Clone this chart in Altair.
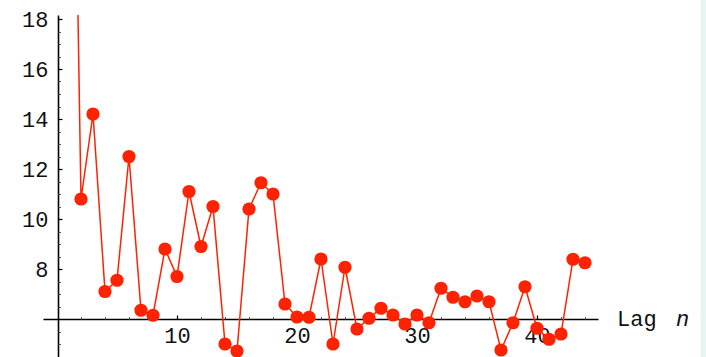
import altair as alt
import pandas as pd

# ---- data ----
lags = list(range(1, 45))
values = [40.0, 10.8, 14.2, 7.1, 7.55, 12.5, 6.35, 6.15, 8.8, 7.7,
          11.1, 8.9, 10.5, 5.0, 4.72, 10.4, 11.45, 11.0, 6.6, 6.08,
          6.07, 8.4, 5.0, 8.07, 5.6, 6.03, 6.43, 6.16, 5.8, 6.16,
          5.85, 7.23, 6.87, 6.69, 6.92, 6.69, 4.76, 5.85, 7.29, 5.63,
          5.19, 5.4, 8.39, 8.25]

x_major = [10, 20, 30, 40]
x_minor = [v for v in range(2, 45, 2) if v % 10 != 0]
y_major = [8, 10, 12, 14, 16, 18]
y_minor = [v / 2 for v in range(9, 37) if v % 4 != 0]

df = pd.DataFrame({"lag": lags, "value": values})

RED = "#ff2200"
FONT = "Liberation Mono"

xs = alt.Scale(domain=[-1.1667, 45.083], nice=False, zero=False)
ys = alt.Scale(domain=[4.48, 18.16], nice=False, zero=False)

base = alt.Chart(df)

# labels layer (line)
line = base.mark_line(color=RED, strokeWidth=1.5, clip=True).encode(
    x=alt.X("lag:Q", scale=xs, axis=alt.Axis(
        orient="bottom", values=x_major, domain=False, ticks=False, tickSize=0,
        grid=False, title=None, offset=-38, labelPadding=6,
        labelFont=FONT, labelFontSize=22, labelColor="#111", labelFontWeight="normal")),
    y=alt.Y("value:Q", scale=ys, axis=alt.Axis(
        orient="left", values=y_major, domain=False, ticks=False, tickSize=0,
        grid=False, title=None, offset=-15, labelPadding=10,
        labelFont=FONT, labelFontSize=22, labelColor="#111", labelBaseline="middle")),
)

# points layer with axis lines and major ticks
points = base.mark_circle(color=RED, size=175, opacity=1, clip=True).encode(
    x=alt.X("lag:Q", scale=xs, axis=alt.Axis(
        orient="top", values=x_major, labels=False, domain=True, domainColor="#000",
        domainWidth=1.6, ticks=True, tickSize=4, tickColor="#000", tickWidth=1.2,
        grid=False, title=None, offset=-304)),
    y=alt.Y("value:Q", scale=ys, axis=alt.Axis(
        orient="right", values=y_major, labels=False, domain=True, domainColor="#000",
        domainWidth=1.6, ticks=True, tickSize=4, tickColor="#000", tickWidth=1.2,
        grid=False, title=None, offset=-540)),
)

# minor ticks layer
minor = base.mark_point(opacity=0).encode(
    x=alt.X("lag:Q", scale=xs, axis=alt.Axis(
        orient="top", values=x_minor, labels=False, domain=False,
        ticks=True, tickSize=2.5, tickColor="#555", tickWidth=1,
        grid=False, title=None, offset=-304)),
    y=alt.Y("value:Q", scale=ys, axis=alt.Axis(
        orient="right", values=y_minor, labels=False, domain=False,
        ticks=True, tickSize=2.5, tickColor="#555", tickWidth=1,
        grid=False, title=None, offset=-540)),
)

lab = pd.DataFrame({"t": ["Lag"]})
lag_text = alt.Chart(lab).mark_text(
    font=FONT, fontSize=22, align="left", baseline="alphabetic", color="#111"
).encode(x=alt.value(574), y=alt.value(311), text="t:N")

n_df = pd.DataFrame({"t": ["n"]})
n_text = alt.Chart(n_df).mark_text(
    font=FONT, fontSize=22, fontStyle="italic", align="left", baseline="alphabetic", color="#111"
).encode(x=alt.value(633), y=alt.value(311), text="t:N")

stripe = alt.Chart(lab).mark_rect(color="#e5f5f1").encode(
    x=alt.value(657.7), x2=alt.value(664), y=alt.value(-15), y2=alt.value(343)
)

chart = alt.layer(stripe, line, points, minor, lag_text, n_text).resolve_axis(
    x="independent", y="independent"
).properties(
    width=555, height=342,
    padding={"left": 43, "top": 15, "right": 108, "bottom": 0},
    autosize=alt.AutoSizeParams(type="none"),
    background="white",
).configure_view(stroke=None)

chart.save("out.html", embed_options={"renderer": "svg", "actions": False})
